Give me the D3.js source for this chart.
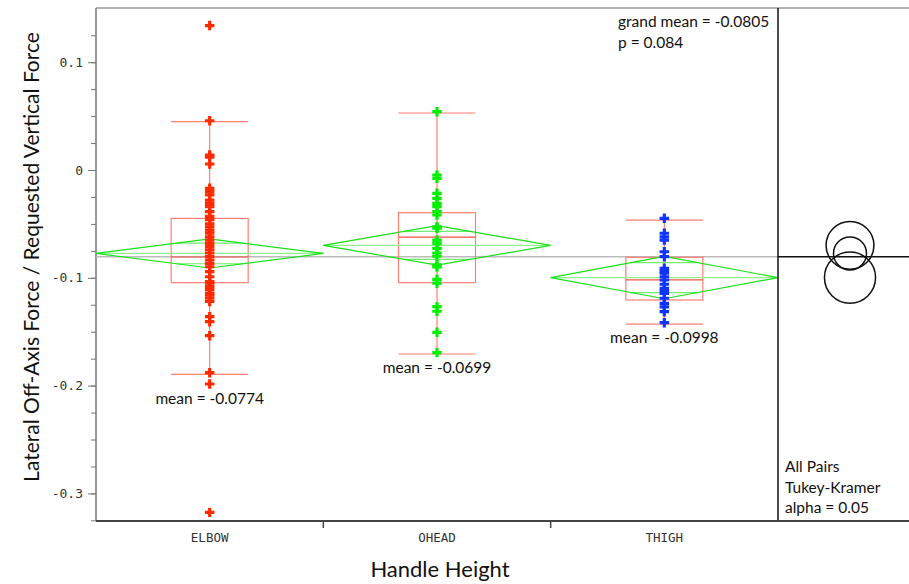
<!DOCTYPE html>
<html>
<head>
<meta charset="utf-8">
<script src="https://cdn.jsdelivr.net/npm/d3@7"></script>
<style>
  html, body { margin: 0; padding: 0; background: #fff; }
  svg { display: block; }
</style>
</head>
<body>
<div id="chart"></div>
<script>
const groups = ['ELBOW', 'OHEAD', 'THIGH'];
const groupColors = ['#ff2a00', '#00f000', '#1034ff'];

const elbowValues = [0.134, 0.0457, 0.0139, 0.012, 0.0056, -0.017, -0.020, -0.023, -0.028, -0.031,
  -0.034, -0.0386, -0.043, -0.046, -0.050, -0.0526, -0.0557, -0.0585, -0.062, -0.065, -0.068,
  -0.071, -0.074, -0.077, -0.0804, -0.0835, -0.0866, -0.0897, -0.0943, -0.099, -0.1036, -0.105,
  -0.108, -0.111, -0.1144, -0.116, -0.119, -0.122, -0.136, -0.1407, -0.1537, -0.188, -0.1985, -0.3176];
const oheadValues = [0.0541, -0.0046, -0.0077, -0.0216, -0.0263, -0.031, -0.034, -0.0386, -0.0417,
  -0.0526, -0.054, -0.065, -0.068, -0.0727, -0.077, -0.080, -0.088, -0.090, -0.1014, -0.105,
  -0.1268, -0.131, -0.1506, -0.1694];
const thighValues = [-0.0448, -0.0587, -0.062, -0.065, -0.0758, -0.0804, -0.0912, -0.094, -0.0958,
  -0.099, -0.102, -0.106, -0.1098, -0.112, -0.1144, -0.119, -0.1237, -0.127, -0.1314, -0.1416];
const groupValues = [elbowValues, oheadValues, thighValues];

// summary stats per group (same order as groups)
const means = [-0.0774, -0.0699, -0.0998];
const ciHalf = [0.0135, 0.0183, 0.0196];
const q1 = [-0.1045, -0.1045, -0.1206];
const medians = [-0.0807, -0.0622, -0.102];
const q3 = [-0.0449, -0.0396, -0.0810];
const whiskerLo = [-0.1896, -0.1707, -0.1429];
const whiskerHi = [0.0448, 0.0529, -0.0464];
const circleRadius = [0.0153, 0.0222, 0.0237];
const grandMean = -0.0805;
const pValue = 0.084;

const yDomain = [-0.3256, 0.1503];
const majorTicks = [0.1, 0, -0.1, -0.2, -0.3];
const minorTicks = d3.range(-0.325, 0.15, 0.025);

const width = 909, height = 584;
const plotLeft = 96, plotTop = 8, plotBottom = 521, divider = 778;
const sans = 'Lato, "Open Sans", sans-serif';
const mono = '"DejaVu Sans Mono", monospace';

const svg = d3.select('#chart').append('svg')
    .attr('width', width)
    .attr('height', height);

const x = d3.scaleBand().domain(groups).range([plotLeft, divider]);
const y = d3.scaleLinear().domain(yDomain).range([plotBottom, plotTop]);

// y axis: minor then major ticks
svg.append('g')
    .attr('transform', `translate(${plotLeft},0)`)
    .call(d3.axisLeft(y).tickValues(minorTicks).tickSize(5).tickFormat(''))
    .call(g => g.select('.domain').remove())
    .call(g => g.selectAll('line').attr('stroke', '#777'));

svg.append('g')
    .attr('transform', `translate(${plotLeft},0)`)
    .call(d3.axisLeft(y).tickValues(majorTicks).tickSize(8).tickPadding(5)
      .tickFormat(d => d === 0 ? '0' : d3.format('.1f')(d).replace('−', '-')))
    .call(g => g.select('.domain').remove())
    .call(g => g.selectAll('line').attr('stroke', '#777'))
    .call(g => g.selectAll('text')
      .attr('font-family', mono).attr('font-size', 13).attr('fill', '#333'));

// frame
svg.append('line').attr('x1', plotLeft).attr('x2', plotLeft).attr('y1', plotTop).attr('y2', plotBottom)
    .attr('stroke', '#777').attr('stroke-width', 1.5);
svg.append('line').attr('x1', plotLeft).attr('x2', width).attr('y1', plotTop).attr('y2', plotTop)
    .attr('stroke', '#999').attr('stroke-width', 1.5);

// x axis: ticks between groups
const xAxis = svg.append('g').attr('transform', `translate(0,${plotBottom})`);
xAxis.selectAll('line')
  .data(groups.slice(1))
  .join('line')
    .attr('x1', d => x(d)).attr('x2', d => x(d))
    .attr('y1', 0).attr('y2', 7)
    .attr('stroke', '#444').attr('stroke-width', 1.5);
xAxis.selectAll('text')
  .data(groups)
  .join('text')
    .attr('x', d => x(d) + x.bandwidth() / 2)
    .attr('y', 21)
    .attr('text-anchor', 'middle')
    .attr('font-family', mono).attr('font-size', 12.5).attr('fill', '#333')
    .text(d => d);

// grand mean line
svg.append('line')
    .attr('x1', plotLeft).attr('x2', divider)
    .attr('y1', y(grandMean)).attr('y2', y(grandMean))
    .attr('stroke', '#bbb').attr('stroke-width', 1.5);

const groupData = groups.map((g, i) => ({
  name: g, i, color: groupColors[i], values: groupValues[i],
  mean: means[i], ci: ciHalf[i], q1: q1[i], med: medians[i], q3: q3[i],
  lo: whiskerLo[i], hi: whiskerHi[i], r: circleRadius[i],
}));

const boxW = 77;
const plot = svg.append('g');

// box plots
const box = plot.selectAll('g.box')
  .data(groupData)
  .join('g')
    .attr('class', 'box')
    .attr('transform', d => `translate(${x(d.name) + x.bandwidth() / 2},0)`)
    .attr('fill', 'none')
    .attr('stroke', '#ff7f72')
    .attr('stroke-width', 1.2);

box.append('line').attr('y1', d => y(d.hi)).attr('y2', d => y(d.lo));
box.append('line').attr('x1', -boxW / 2).attr('x2', boxW / 2).attr('y1', d => y(d.hi)).attr('y2', d => y(d.hi));
box.append('line').attr('x1', -boxW / 2).attr('x2', boxW / 2).attr('y1', d => y(d.lo)).attr('y2', d => y(d.lo));
box.append('rect')
    .attr('x', -boxW / 2).attr('width', boxW)
    .attr('y', d => y(d.q3)).attr('height', d => y(d.q1) - y(d.q3));
box.append('line').attr('x1', -boxW / 2).attr('x2', boxW / 2).attr('y1', d => y(d.med)).attr('y2', d => y(d.med))
    .attr('stroke', '#f05040');

// means diamonds with overlap marks
const diamond = plot.selectAll('g.diamond')
  .data(groupData)
  .join('g')
    .attr('class', 'diamond')
    .attr('fill', 'none');

diamond.append('line')
    .attr('x1', d => x(d.name)).attr('x2', d => x(d.name) + x.bandwidth())
    .attr('y1', d => y(d.mean)).attr('y2', d => y(d.mean))
    .attr('stroke', '#90f090').attr('stroke-width', 1.2);

const overlap = Math.SQRT2 / 2;
[1, -1].forEach(s => {
  diamond.append('line')
      .attr('x1', d => x(d.name) + x.bandwidth() / 2 * overlap)
      .attr('x2', d => x(d.name) + x.bandwidth() * (1 - overlap / 2))
      .attr('y1', d => y(d.mean + s * d.ci * overlap))
      .attr('y2', d => y(d.mean + s * d.ci * overlap))
      .attr('stroke', '#70ee70').attr('stroke-width', 1.2);
});

diamond.append('path')
    .attr('d', d => {
      const x0 = x(d.name), x1 = x0 + x.bandwidth(), xm = (x0 + x1) / 2;
      return `M${x0},${y(d.mean)}L${xm},${y(d.mean + d.ci)}L${x1},${y(d.mean)}L${xm},${y(d.mean - d.ci)}Z`;
    })
    .attr('stroke', '#19e019').attr('stroke-width', 1.2);

// points
const cross = d3.symbol(d3.symbolCross, 50);
plot.selectAll('g.pts')
  .data(groupData)
  .join('g')
    .attr('class', 'pts')
    .attr('fill', d => d.color)
  .selectAll('path')
  .data(d => d.values.map(v => ({ v, name: d.name })))
  .join('path')
    .attr('d', cross)
    .attr('transform', d => `translate(${x(d.name) + x.bandwidth() / 2},${y(d.v)})`);

// mean labels under each group
plot.selectAll('text.mean')
  .data(groupData)
  .join('text')
    .attr('class', 'mean')
    .attr('x', d => x(d.name) + x.bandwidth() / 2)
    .attr('y', d => y(d3.min(d.values.filter(v => v > d.lo - 0.02))) + 20)
    .attr('text-anchor', 'middle')
    .attr('font-family', sans).attr('font-size', 15.5).attr('fill', '#111')
    .text(d => `mean = ${d.mean}`);

// stats text
const stats = svg.append('text')
    .attr('font-family', sans).attr('font-size', 15.5).attr('fill', '#111');
stats.append('tspan').attr('x', 618).attr('y', 27).text(`grand mean = ${grandMean}`);
stats.append('tspan').attr('x', 618).attr('y', 48).text(`p = ${pValue}`);

// comparison circles panel
svg.append('line').attr('x1', divider).attr('x2', divider).attr('y1', plotTop).attr('y2', plotBottom)
    .attr('stroke', '#111').attr('stroke-width', 1.5);
svg.append('line').attr('x1', divider).attr('x2', width)
    .attr('y1', y(grandMean)).attr('y2', y(grandMean))
    .attr('stroke', '#111').attr('stroke-width', 1.5);

const cx = 850;
svg.append('g')
  .selectAll('circle')
  .data(groupData)
  .join('circle')
    .attr('cx', cx)
    .attr('cy', d => y(d.mean))
    .attr('r', d => y(0) - y(d.r))
    .attr('fill', 'none')
    .attr('stroke', '#111')
    .attr('stroke-width', 1.5);

const tk = svg.append('text')
    .attr('font-family', sans).attr('font-size', 15.5).attr('fill', '#111');
['All Pairs', 'Tukey-Kramer', 'alpha = 0.05'].forEach((t, i) => {
  tk.append('tspan').attr('x', 785).attr('y', 472 + i * 20.5).text(t);
});

// bottom axis line over everything
svg.append('line').attr('x1', plotLeft).attr('x2', width).attr('y1', plotBottom).attr('y2', plotBottom)
    .attr('stroke', '#444').attr('stroke-width', 2);

// axis titles
svg.append('text')
    .attr('x', 440).attr('y', 577)
    .attr('text-anchor', 'middle')
    .attr('font-family', sans).attr('font-size', 22).attr('fill', '#111')
    .text('Handle Height');

svg.append('text')
    .attr('transform', 'translate(39,257) rotate(-90)')
    .attr('text-anchor', 'middle')
    .attr('font-family', sans).attr('font-size', 21).attr('fill', '#111')
    .text('Lateral Off-Axis Force / Requested Vertical Force');
</script>
</body>
</html>
